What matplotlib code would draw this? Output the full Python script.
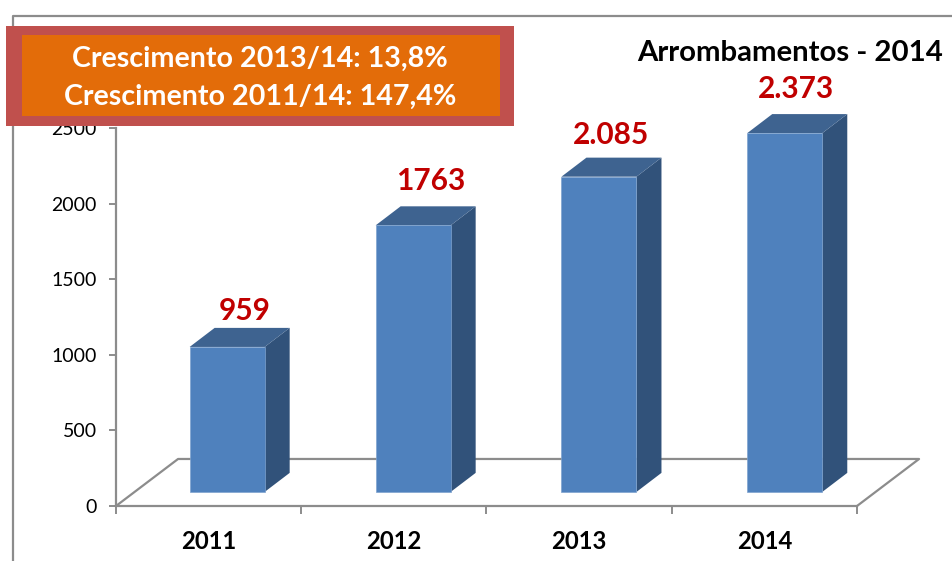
import matplotlib.pyplot as plt
from matplotlib.patches import Rectangle
from matplotlib.lines import Line2D

plt.rcParams['font.family'] = ['Lato', 'DejaVu Sans']

# Data
years = ['2011', '2012', '2013', '2014']
values = [959, 1763, 2085, 2373]
value_labels = ['959', '1763', '2.085', '2.373']
y_ticks = [0, 500, 1000, 1500, 2000, 2500]
title = 'Arrombamentos - 2014'
growth_lines = ['Crescimento 2013/14: 13,8%', 'Crescimento 2011/14: 147,4%']

W, H = 953, 561
grey = '#8c8c8c'
front = '#4f81bd'
side = '#31527a'
top = '#3e6390'

fig = plt.figure(figsize=(W / 100, H / 100), dpi=100)


def px_box(x0, y0, x1, y1):
    # pixel box (y going down) to figure fractions
    return [x0 / W, 1 - y1 / H, (x1 - x0) / W, (y1 - y0) / H]


# Outer frame, only top and left show
fig.add_artist(Line2D([13 / W, 13 / W, 1], [0, 1 - 16 / H, 1 - 16 / H], color=grey, lw=1.6))

ax = fig.add_axes(px_box(116, 128, 857, 506))
ax.set_xlim(0, 4)
ax.set_ylim(0, 2500)
ax.patch.set_visible(False)
for s in ['top', 'right']:
    ax.spines[s].set_visible(False)
for s in ['left', 'bottom']:
    ax.spines[s].set_color(grey)
    ax.spines[s].set_linewidth(1.6)

# Fake 3D depth, in data units
floor_dx, floor_dy = 0.335, 311
depth_dx, depth_dy = 0.135, 126
base = 93
bar_w = 0.405
bar_x = [0.6, 1.604, 2.607, 3.61]

# Floor
ax.plot([0, floor_dx, 4 + floor_dx, 4], [0, floor_dy, floor_dy, 0],
        color=grey, lw=1.6, clip_on=False, zorder=1)

# Bars
ax.bar(bar_x, values, bar_w, bottom=base, color=front, edgecolor='#7fa3cf', linewidth=0.5, zorder=3)
for x, v in zip(bar_x, values):
    r = x + bar_w / 2
    l = x - bar_w / 2
    t = base + v
    ax.fill([r, r + depth_dx, r + depth_dx, r], [base, base + depth_dy, t + depth_dy, t],
            color=side, lw=0, clip_on=False, zorder=2)
    ax.fill([l, l + depth_dx, r + depth_dx, r], [t, t + depth_dy, t + depth_dy, t],
            color=top, lw=0, clip_on=False, zorder=2)

# Value labels sit a bit off the bars, offsets in pixels
label_dx = [18, 18, 12, 11]
label_dy = [36, 44, 42, 44]
for x, v, s, dx, dy in zip(bar_x, values, value_labels, label_dx, label_dy):
    ax.annotate(s, (x, base + v), xytext=(dx, dy), textcoords='offset pixels',
                ha='center', va='center', color='#c00000', fontsize=21.5, fontweight='bold',
                annotation_clip=False, zorder=4)

# Axes ticks
ax.set_yticks(y_ticks)
ax.tick_params(axis='y', length=5, width=1.4, color=grey, labelsize=14, pad=9)
ax.set_xticks(range(5))
ax.set_xticklabels([])
ax.tick_params(axis='x', which='major', length=6, width=1.4, color=grey)
ax.set_xticks([0.5, 1.5, 2.5, 3.5], minor=True)
ax.set_xticklabels(years, minor=True, fontweight='bold', fontsize=17.2)
ax.tick_params(axis='x', which='minor', length=0, pad=17)

# Title
fig.text(943 / W, 1 - 53 / H, title, ha='right', va='center', fontsize=21.2, fontweight='bold', color='black')

# Growth box on top of the chart
ax.set_zorder(1)
fig.add_artist(Rectangle((6 / W, 1 - 126 / H), 508 / W, 100 / H, facecolor='#c0504d', edgecolor='none', zorder=5))
fig.add_artist(Rectangle((22 / W, 1 - 116 / H), 478 / W, 81 / H, facecolor='#e36c09', edgecolor='none', zorder=6))
fig.text(260 / W, 1 - 59 / H, growth_lines[0], ha='center', va='center', color='white',
         fontsize=20.6, fontweight='bold', zorder=7)
fig.text(260 / W, 1 - 97 / H, growth_lines[1], ha='center', va='center', color='white',
         fontsize=20.6, fontweight='bold', zorder=7)

fig.savefig('out.png', dpi=100)
